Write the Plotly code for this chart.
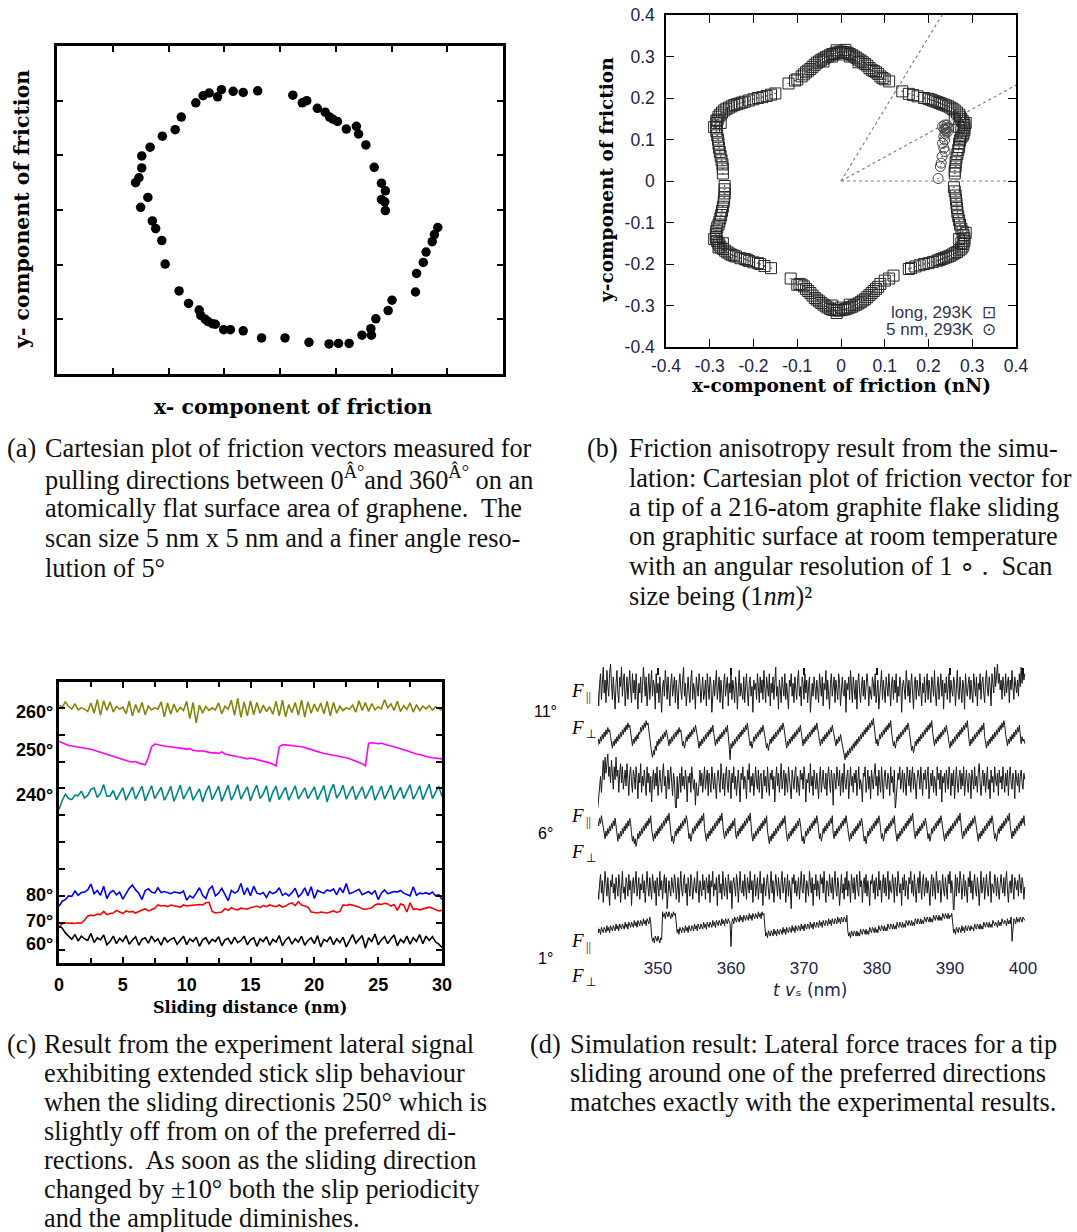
import math
import plotly.graph_objects as go

W, H = 1077, 1232


def px(x):
    return x / W


def py(y):
    return 1 - y / H


# ---------------- (a) experimental friction vectors ----------------
a_x = [3.60, 3.34, 3.16, 2.95, 2.88, 2.73, 2.62, 2.49, 2.23, 2.12, 1.89, 1.67, 1.52, 1.52, 1.47, 1.41, 1.50, 1.63,
       1.71, 1.77, 1.88, 1.94, 2.19, 2.36, 2.55, 2.58, 2.66, 2.71, 2.79, 2.84, 2.99, 3.11, 3.34, 3.67, 4.09, 4.52,
       4.88, 5.05, 5.24, 5.47, 5.63, 5.64, 5.72, 5.94, 6.01, 6.43, 6.45, 6.57, 6.62, 6.73, 6.77, 6.83,
       4.23, 4.40, 4.48, 4.67, 4.81, 4.89, 4.95, 5.03, 5.19, 5.37, 5.41, 5.54, 5.69, 5.82, 5.89, 5.82, 5.88, 5.89]
a_y = [5.18, 5.15, 5.17, 5.20, 5.07, 5.14, 5.09, 4.96, 4.70, 4.47, 4.35, 4.15, 3.99, 3.77, 3.59, 3.50, 3.05, 3.23,
       2.80, 2.66, 2.44, 2.01, 1.52, 1.29, 1.17, 1.07, 1.00, 0.96, 0.92, 0.91, 0.81, 0.81, 0.79, 0.66, 0.66, 0.58,
       0.55, 0.56, 0.56, 0.71, 0.83, 0.71, 1.01, 1.16, 1.35, 1.50, 1.84, 2.04, 2.23, 2.42, 2.55, 2.68,
       5.10, 4.96, 5.00, 4.86, 4.79, 4.70, 4.66, 4.62, 4.48, 4.53, 4.39, 4.19, 3.78, 3.49, 3.35, 3.19, 3.15, 2.99]

# ---------------- (b) simulated friction vectors (nN) ----------------
b_long_pts = [
    (-0.06, 0.280), (-0.055, 0.285), (-0.05, 0.288), (-0.045, 0.292), (-0.04, 0.295), (-0.035, 0.298),
    (-0.03, 0.300), (-0.025, 0.303), (-0.02, 0.306), (-0.015, 0.307), (-0.01, 0.309), (-0.005, 0.310),
    (0.0, 0.312), (0.005, 0.311), (0.01, 0.310), (0.015, 0.309), (0.02, 0.306), (0.025, 0.303), (0.03, 0.300),
    (0.035, 0.297), (0.04, 0.293), (0.045, 0.290), (0.05, 0.286), (0.055, 0.282), (0.06, 0.278), (-0.02, 0.300),
    (0.0, 0.305), (0.02, 0.300), (-0.04, 0.288), (0.04, 0.286), (-0.01, 0.315), (0.01, 0.316),
    (0.065, 0.272), (0.07, 0.268), (0.075, 0.265), (0.08, 0.262), (0.085, 0.258), (0.09, 0.252), (0.095, 0.248),
    (0.10, 0.245), (0.11, 0.240),
    (0.14, 0.216), (0.155, 0.210), (0.165, 0.207), (0.175, 0.204), (0.19, 0.200), (0.20, 0.198), (0.205, 0.196),
    (0.21, 0.194), (0.215, 0.192), (0.22, 0.190), (0.225, 0.188), (0.23, 0.186), (0.235, 0.184), (0.24, 0.182),
    (0.245, 0.180), (0.25, 0.177), (0.255, 0.174), (0.26, 0.170), (0.265, 0.165), (0.27, 0.160), (0.272, 0.155),
    (0.275, 0.150), (0.278, 0.145), (0.28, 0.140), (0.282, 0.135), (0.282, 0.128), (0.282, 0.122), (0.28, 0.115),
    (0.278, 0.110), (0.275, 0.105), (0.272, 0.098), (0.27, 0.090), (0.27, 0.082), (0.268, 0.075), (0.266, 0.065),
    (0.264, 0.055), (0.262, 0.045), (0.262, 0.035), (0.26, 0.025), (0.26, 0.018), (0.26, 0.150), (0.27, 0.130),
    (0.285, 0.140), (0.275, 0.120),
    (0.258, -0.015), (0.26, -0.025), (0.262, -0.035), (0.263, -0.045), (0.264, -0.055), (0.265, -0.065),
    (0.266, -0.075), (0.268, -0.085), (0.27, -0.095), (0.272, -0.105), (0.275, -0.115), (0.278, -0.122),
    (0.28, -0.130), (0.282, -0.138), (0.282, -0.145), (0.28, -0.152), (0.278, -0.158), (0.275, -0.163),
    (0.27, -0.167), (0.265, -0.171), (0.26, -0.174), (0.255, -0.177), (0.25, -0.180), (0.245, -0.182),
    (0.24, -0.184), (0.235, -0.186), (0.23, -0.188), (0.225, -0.190), (0.22, -0.192), (0.21, -0.195),
    (0.20, -0.198), (0.19, -0.200), (0.18, -0.203), (0.17, -0.206), (0.16, -0.210), (0.155, -0.212),
    (0.27, -0.140), (0.285, -0.125), (0.275, -0.150),
    (0.12, -0.228), (0.11, -0.235), (0.10, -0.240), (0.09, -0.248), (0.085, -0.255), (0.08, -0.260),
    (0.075, -0.265), (0.07, -0.270), (0.065, -0.275), (0.06, -0.280), (0.055, -0.285),
    (0.05, -0.288), (0.045, -0.292), (0.04, -0.295), (0.035, -0.298), (0.03, -0.300), (0.025, -0.303),
    (0.02, -0.305), (0.015, -0.307), (0.01, -0.309), (0.005, -0.310), (0.0, -0.311), (-0.005, -0.312),
    (-0.01, -0.312), (-0.015, -0.311), (-0.02, -0.310), (-0.025, -0.308), (-0.03, -0.305), (-0.035, -0.302),
    (-0.04, -0.298), (-0.045, -0.294), (-0.05, -0.290), (-0.055, -0.286), (-0.06, -0.282), (0.0, -0.305),
    (-0.02, -0.300), (0.02, -0.298), (-0.01, -0.318),
    (-0.065, -0.276), (-0.07, -0.270), (-0.075, -0.265), (-0.08, -0.260), (-0.085, -0.254), (-0.09, -0.250),
    (-0.095, -0.248), (-0.10, -0.250), (-0.115, -0.235),
    (-0.16, -0.210), (-0.175, -0.205), (-0.185, -0.200), (-0.19, -0.198), (-0.20, -0.196), (-0.21, -0.193),
    (-0.215, -0.190), (-0.22, -0.188), (-0.23, -0.186), (-0.24, -0.182), (-0.245, -0.180), (-0.25, -0.178),
    (-0.255, -0.175), (-0.26, -0.172), (-0.265, -0.168), (-0.27, -0.164), (-0.275, -0.160), (-0.278, -0.155),
    (-0.28, -0.150), (-0.283, -0.145), (-0.285, -0.140), (-0.286, -0.135), (-0.286, -0.128), (-0.285, -0.120),
    (-0.283, -0.112), (-0.28, -0.105), (-0.278, -0.098), (-0.276, -0.090), (-0.274, -0.082), (-0.272, -0.072),
    (-0.27, -0.062), (-0.268, -0.050), (-0.267, -0.040), (-0.266, -0.030), (-0.266, -0.020), (-0.266, -0.012),
    (-0.28, -0.160), (-0.29, -0.140), (-0.27, -0.150),
    (-0.27, 0.018), (-0.27, 0.030), (-0.271, 0.040), (-0.273, 0.050), (-0.275, 0.060), (-0.277, 0.070),
    (-0.279, 0.080), (-0.28, 0.090), (-0.281, 0.100), (-0.283, 0.110), (-0.285, 0.120), (-0.285, 0.130),
    (-0.284, 0.140), (-0.282, 0.148), (-0.28, 0.155), (-0.276, 0.160), (-0.272, 0.165), (-0.267, 0.170),
    (-0.262, 0.174), (-0.256, 0.177), (-0.25, 0.180), (-0.244, 0.183), (-0.238, 0.185), (-0.232, 0.187),
    (-0.226, 0.189), (-0.22, 0.191), (-0.21, 0.194), (-0.20, 0.197), (-0.19, 0.200), (-0.18, 0.202),
    (-0.17, 0.205), (-0.16, 0.208), (-0.15, 0.211), (-0.285, 0.145), (-0.29, 0.130), (-0.275, 0.140),
    (-0.12, 0.235), (-0.105, 0.242), (-0.10, 0.245), (-0.09, 0.252), (-0.085, 0.257), (-0.08, 0.262),
    (-0.075, 0.266), (-0.07, 0.270), (-0.065, 0.275),
]
b_5nm_pts = [
    (0.222, 0.006), (0.227, 0.035), (0.229, 0.043), (0.231, 0.059), (0.238, 0.071), (0.235, 0.079),
    (0.232, 0.091), (0.237, 0.099), (0.235, 0.107), (0.238, 0.115), (0.240, 0.122), (0.240, 0.127),
    (0.232, 0.131), (0.237, 0.135), (0.242, 0.135), (0.245, 0.128), (0.243, 0.118), (0.236, 0.125),
]
b_guide_angles = [0, 30, 60]
b_tickvals = [-0.4, -0.3, -0.2, -0.1, 0, 0.1, 0.2, 0.3, 0.4]
b_ticktext = ["-0.4", "-0.3", "-0.2", "-0.1", "0", "0.1", "0.2", "0.3", "0.4"]
b_legend = ["long, 293K  \u22a1", "5 nm, 293K  \u2299"]

# ---------------- (c) experimental lateral signal ----------------
c_step = 0.25
c_260 = [10.10, 10.02, 10.22, 10.05, 9.95, 10.15, 9.92, 10.00, 9.95, 9.86,
         10.18, 9.80, 10.30, 9.72, 10.26, 9.90, 10.22, 9.84, 10.05, 9.95,
         10.02, 9.78, 10.25, 9.70, 10.12, 9.82, 10.20, 9.74, 10.06, 9.92,
         10.00, 9.95, 10.22, 9.66, 10.18, 9.76, 10.14, 9.84, 10.02, 9.90,
         10.24, 9.60, 10.20, 9.44, 10.10, 9.80, 10.05, 9.90, 10.00, 9.92,
         10.18, 9.78, 10.06, 9.94, 10.28, 9.72, 10.35, 9.64, 10.22, 9.70,
         10.26, 9.74, 10.20, 9.80, 10.10, 9.86, 10.04, 9.76, 10.24, 9.70,
         10.28, 9.66, 10.12, 9.82, 10.20, 9.72, 10.28, 9.65, 10.22, 9.80,
         10.14, 9.86, 10.18, 9.78, 10.24, 9.70, 10.20, 9.80, 10.06, 9.90,
         10.00, 9.95, 10.10, 9.84, 10.26, 9.90, 10.20, 9.86, 10.16, 9.92,
         10.04, 9.96, 10.30, 10.00, 10.14, 9.90, 10.24, 9.86, 10.08, 9.94,
         10.18, 9.84, 10.12, 9.90, 10.06, 9.96, 10.08, 9.92, 10.04, 9.98, 9.90]
c_250 = [8.75, 8.70, 8.64, 8.60, 8.58, 8.56, 8.55, 8.52, 8.50, 8.48,
         8.46, 8.42, 8.38, 8.36, 8.30, 8.28, 8.24, 8.20, 8.16, 8.10,
         8.08, 8.02, 8.00, 7.98, 8.00, 7.94, 7.92, 7.88, 8.15, 8.55,
         8.65, 8.62, 8.60, 8.58, 8.56, 8.55, 8.54, 8.52, 8.50, 8.48,
         8.46, 8.48, 8.42, 8.40, 8.38, 8.40, 8.36, 8.34, 8.32, 8.33,
         8.30, 8.36, 8.28, 8.25, 8.22, 8.20, 8.18, 8.16, 8.12, 8.10,
         8.13, 8.10, 8.08, 8.05, 8.02, 7.98, 7.95, 7.90, 7.84, 8.55,
         8.62, 8.62, 8.60, 8.60, 8.58, 8.57, 8.55, 8.52, 8.48, 8.44,
         8.40, 8.36, 8.32, 8.30, 8.28, 8.26, 8.24, 8.22, 8.20, 8.18,
         8.14, 8.10, 8.06, 8.02, 7.98, 7.92, 7.84, 8.68, 8.70, 8.68,
         8.66, 8.68, 8.64, 8.60, 8.58, 8.55, 8.52, 8.48, 8.44, 8.40,
         8.36, 8.30, 8.28, 8.26, 8.22, 8.20, 8.16, 8.14, 8.12, 8.11, 8.10]
c_240 = [6.21, 6.55, 6.78, 6.62, 6.58, 6.75, 6.72, 6.90, 6.64, 6.74,
         6.96, 7.02, 6.66, 6.82, 7.14, 6.70, 6.72, 6.92, 6.58, 6.80,
         7.02, 6.56, 6.78, 7.05, 6.60, 6.84, 7.08, 6.54, 6.82, 7.10,
         6.62, 6.86, 7.04, 6.56, 6.78, 7.08, 6.52, 6.80, 7.12, 6.60,
         6.84, 7.06, 6.56, 6.80, 6.98, 6.50, 6.86, 7.10, 6.58, 6.82,
         7.08, 6.52, 6.86, 7.12, 6.56, 6.80, 7.14, 6.60, 6.84, 7.06,
         6.54, 6.88, 7.12, 6.62, 6.80, 7.10, 6.50, 6.86, 7.08, 6.58,
         6.82, 7.04, 6.56, 6.84, 7.10, 6.60, 6.80, 7.02, 6.62, 6.86,
         7.06, 6.58, 6.82, 7.10, 6.50, 6.88, 7.16, 6.64, 6.82, 7.12,
         6.60, 6.86, 7.08, 6.58, 6.80, 7.06, 6.62, 6.84, 7.10, 6.56,
         6.82, 7.08, 6.60, 6.86, 7.12, 6.58, 6.84, 7.04, 6.62, 6.88,
         7.14, 6.60, 6.82, 7.10, 6.58, 6.86, 7.16, 6.62, 6.84, 7.08, 6.70]
c_80 = [2.61, 2.80, 2.86, 3.00, 2.98, 3.18, 3.02, 3.12, 3.14, 3.22,
        3.44, 3.08, 3.20, 3.02, 3.36, 2.90, 3.12, 3.20, 3.04, 3.14,
        2.88, 3.10, 3.28, 3.40, 3.22, 3.10, 2.86, 3.20, 3.26, 3.14,
        3.10, 3.30, 3.12, 3.16, 3.12, 3.08, 3.14, 3.12, 3.10, 3.18,
        2.84, 3.00, 2.92, 3.10, 3.30, 3.02, 2.90, 3.24, 3.36, 3.00,
        3.10, 3.28, 3.02, 2.82, 3.20, 3.10, 3.16, 3.46, 3.04, 3.30,
        3.00, 3.36, 3.10, 3.06, 3.12, 2.94, 3.16, 3.08, 3.14, 3.30,
        3.02, 3.10, 3.00, 3.12, 3.28, 2.96, 3.08, 3.30, 3.00, 3.34,
        2.90, 3.20, 3.14, 3.10, 3.22, 3.18, 3.26, 3.04, 3.30, 3.12,
        3.46, 3.08, 3.12, 3.18, 3.24, 3.04, 3.10, 3.16, 3.06, 3.20,
        2.86, 3.10, 3.22, 3.08, 3.12, 3.16, 3.14, 3.20, 3.10, 3.06,
        3.00, 3.34, 3.02, 3.10, 3.08, 3.12, 3.06, 3.14, 3.00, 3.04, 2.86]
c_70 = [1.81, 1.96, 2.00, 1.98, 1.99, 1.97, 2.00, 1.98, 2.10, 2.24,
        2.28, 2.26, 2.32, 2.30, 2.42, 2.30, 2.34, 2.36, 2.46, 2.40,
        2.34, 2.44, 2.40, 2.42, 2.36, 2.42, 2.46, 2.52, 2.44, 2.48,
        2.54, 2.66, 2.62, 2.64, 2.60, 2.66, 2.64, 2.62, 2.58, 2.66,
        2.62, 2.64, 2.66, 2.66, 2.68, 2.66, 2.74, 2.76, 2.42, 2.36,
        2.38, 2.40, 2.52, 2.46, 2.56, 2.50, 2.48, 2.54, 2.52, 2.50,
        2.56, 2.58, 2.62, 2.56, 2.64, 2.60, 2.66, 2.62, 2.60, 2.66,
        2.58, 2.62, 2.70, 2.74, 2.64, 2.78, 2.66, 2.62, 2.58, 2.40,
        2.38, 2.36, 2.40, 2.38, 2.36, 2.40, 2.44, 2.38, 2.42, 2.66,
        2.64, 2.68, 2.66, 2.62, 2.58, 2.52, 2.50, 2.52, 2.56, 2.66,
        2.70, 2.68, 2.72, 2.70, 2.62, 2.68, 2.46, 2.70, 2.66, 2.40,
        2.74, 2.50, 2.52, 2.48, 2.52, 2.56, 2.58, 2.54, 2.50, 2.44, 2.46]
c_60 = [1.87, 1.80, 1.62, 1.48, 1.38, 1.56, 1.32, 1.50, 1.40, 1.34,
        1.60, 1.26, 1.44, 1.36, 1.54, 1.18, 1.30, 1.50, 1.22, 1.42,
        1.30, 1.52, 1.20, 1.36, 1.48, 1.16, 1.38, 1.44, 1.24, 1.50,
        1.30, 1.40, 1.16, 1.46, 1.28, 1.38, 1.44, 1.20, 1.34, 1.50,
        1.18, 1.40, 1.30, 1.46, 1.12, 1.36, 1.44, 1.22, 1.38, 1.30,
        1.48, 1.14, 1.36, 1.42, 1.20, 1.46, 1.26, 1.34, 1.50, 1.18,
        1.36, 1.44, 1.12, 1.40, 1.30, 1.48, 1.16, 1.38, 1.28, 1.52,
        1.14, 1.36, 1.46, 1.20, 1.40, 1.28, 1.50, 1.16, 1.34, 1.44,
        1.22, 1.52, 1.10, 1.38, 1.30, 1.48, 1.18, 1.40, 1.26, 1.46,
        1.10, 1.36, 1.56, 1.24, 1.40, 1.52, 1.06, 1.44, 1.30, 1.58,
        1.18, 1.36, 1.48, 1.22, 1.40, 1.54, 1.14, 1.38, 1.26, 1.50,
        1.20, 1.44, 1.30, 1.56, 1.22, 1.50, 1.34, 1.48, 1.28, 1.20, 1.08]
c_series = [c_260, c_250, c_240, c_80, c_70, c_60]
c_colors = ["#85850a", "#ff00ff", "#008585", "#0000ff", "#ff0000", "#000000"]
c_labels = ["260°", "250°", "240°", "80°", "70°", "60°"]
c_label_levels = [9.83, 8.44, 6.77, 3.05, 2.05, 1.22]
c_xticks = [0, 5, 10, 15, 20, 25, 30]

# ---------------- (d) simulated lateral force traces ----------------
d_start = 341.75
d_step = 0.125
d_par_11 = [1, -4, 3, 6, -2, 5, 8, 0, 4, -3, 7, 2, -1, 6, 9, 3, -2, 5, 1, -5,
            3, 7, 0, -3, 5, 2, 8, -1, 4, 6, -4, 2, 5, -2, 3, 7, 1, -3, 6, 0,
            4, -2, 6, 1, -5, 3, 0, 5, -3, 2, 8, 4, -1, 5, -4, 1, 6, -2, 3, 7,
            -1, 4, 2, -5, 6, 0, 3, -3, 5, 1, -6, 2, 4, -1, 7, 3, -2, 5, 0, -4,
            3, 6, -1, 2, 5, -3, 4, 0, -5, 3, 6, 1, -2, 4, 8, -1, 3, -4, 2, 5,
            0, -3, 4, 7, -2, 3, 1, -5, 5, 2, -1, 6, 3, -3, 2, 5, -2, 0, 4, -4,
            6, 1, -2, 5, 3, -6, 2, 4, -1, 3, 7, -2, 1, 5, -3, 4, 0, -5, 3, 6,
            -1, 2, 5, -4, 3, 0, 6, -2, 4, 1, -3, 5, 2, -5, 4, 7, -1, 3, 0, -2,
            5, -3, 2, 6, 0, -4, 3, 5, -1, 2, -6, 4, 1, 3, -2, 6, 2, -3, 5, 0,
            4, -2, 7, 1, -3, 5, 2, -1, 6, -4, 3, 0, 5, -2, 3, 8, -1, 2, -5, 4,
            1, -3, 5, 2, -1, 6, -2, 3, 0, -5, 4, 2, 6, -1, 3, -3, 5, 1, -2, 4,
            7, -1, 2, -4, 5, 3, -2, 6, 0, 4, -3, 2, 5, -6, 1, 3, -1, 5, 2, -2,
            4, 0, -3, 6, 2, -1, 5, -4, 3, 1, 7, -2, 4, 0, -5, 3, 6, -1, 2, 5,
            -3, 4, 1, -2, 6, 3, -4, 2, 5, 0, -1, 4, -6, 3, 1, 5, -2, 7, 2, -3,
            5, 1, -2, 4, -5, 3, 6, 0, -3, 2, 5, -1, 4, -2, 1, 6, 3, -4, 2, 0,
            -2, 5, 3, -1, 6, -3, 2, 4, -5, 1, 3, 7, -2, 4, 0, -3, 5, 2, -1, 6,
            1, -4, 3, 5, -2, 4, 0, 6, -3, 2, -1, 5, 3, -6, 2, 4, 1, -2, 7, 3,
            -1, 4, -3, 2, 6, 0, -5, 3, 5, -2, 4, 1, -1, 6, 2, -4, 3, 0, 5, -3,
            2, 6, -2, 4, 1, -3, 5, 3, -1, 7, 0, -4, 2, 5, -2, 3, 6, -1, 4, -5,
            3, 0, 5, -2, 2, 6, -3, 4, 1, -1, 5, 3, -4, 2, 7, 0, -2, 5, 1, -3,
            4, 2, -5, 6, 1, -1, 3, 5, -2, 4, 0, -3, 6, 2, -1, 5, -4, 3, 1, 6,
            -2, 3, 5, 0, -3, 4, 7, 1, -1, 5, 2, -4, 6, 3, 0, 8, 2, 5, 9, 3,
            6, 1, 4, -2, 5, 2, -1, 6, 0, 3, 5, -3, 4, 1, 7, 2, -2, 5, 3, 0,
            4, -1, 6, 2, 8, 3, 7, 4, 6]
d_perp_11 = [-3, 0, -2, 1, -1, 2, 0, 3, 1, 4, 2, 5, 3, 4, 1, -2, -4, -1, -3, 0,
             -2, 1, -1, 2, 0, 3, 1, 4, 2, 5, 3, 6, 4, 7, 5, 6, 2, -1, -3, 0,
             -2, 1, -1, 2, 0, 3, 2, 5, 3, 6, 4, 7, 5, 8, 6, 7, 3, 0, -3, -6,
             -8, -5, -7, -3, -5, -1, -3, 0, -2, 1, -1, 2, 0, 3, 1, 4, 2, -1, -3, 0,
             -2, 1, -1, 2, 0, 3, 1, 4, 2, 5, 3, 4, 0, -3, -1, -4, -2, 1, -1, 2,
             0, 3, 1, 4, 2, 5, 3, 6, 4, 1, -2, -4, -1, -3, 0, -2, 1, -1, 2, 0,
             3, 1, 4, 2, 5, 3, 6, 2, -1, -3, 0, -2, 1, -1, 2, 0, 3, 1, 4, 2,
             5, 3, 6, -1, -3, -9, -2, -4, -1, -3, 0, -2, 1, -1, 2, 0, 3, 1, 4, 2,
             5, 3, 6, 4, 7, 3, 0, -3, -1, -4, -2, 1, -1, 2, 0, 3, 1, 4, 2, 5,
             3, 6, 4, 2, -1, -4, -2, -5, -3, 0, -2, 1, -1, 2, 0, 3, 1, 4, 2, 5,
             3, 6, 4, 7, 5, 1, -2, -4, -1, -3, 0, -2, 1, -1, 2, 0, 3, 1, 4, 2,
             5, 3, 6, 2, -1, -3, 0, -2, 1, -1, 2, 0, 3, 1, 4, 2, 5, 3, 6, 4,
             7, 5, 2, -1, -3, 0, -2, 1, -1, 2, 0, 3, 1, 4, 2, 5, 3, 6, 4, 1,
             -1, -3, 0, -2, 1, -1, 2, 0, -3, -5, -7, -9, -6, -8, -5, -7, -4, -6, -3, -5,
             -2, -4, -1, -3, 0, -2, 1, -1, 2, 0, 3, 1, 4, 2, 5, 3, 6, 4, 7, 5,
             8, 6, 9, 4, 1, -2, 0, -3, -1, 2, 0, 3, 1, 4, 2, 5, 3, 6, 4, 7,
             5, 8, 3, 0, -3, -1, -4, -2, 1, -1, 2, 0, 3, 1, 4, 2, 5, 3, 6, 4,
             7, 5, 1, -2, -5, -3, -6, -4, -1, -3, 0, -2, 1, -1, 2, 0, 3, 1, 4, 2,
             5, 3, 6, 4, 7, 5, 8, 3, -1, -3, 0, -2, 1, -1, 2, 0, 3, 1, 4, 2,
             5, 3, 6, 4, 1, -2, -4, -1, -3, 0, -2, 1, -1, 2, 0, 3, 1, 4, 2, 5,
             3, 6, 4, 7, 5, 8, 2, -1, -3, 0, -2, 1, -1, 2, 0, 3, 1, 4, 2, 5,
             3, 6, 4, 7, 1, -2, -4, -1, -3, 0, -2, 1, -1, 2, 0, 3, 1, 4, 2, 5,
             3, 6, 4, 7, 5, 8, 6, 2, -1, -3, 0, -2, 1, -1, 2, 0, 3, 1, 4, 2,
             5, 3, 6, 0, -2, 1, -1, 0, -2]
d_par_6 = [-7, -3, 0, 3, -2, 5, 8, 2, 9, 4, 7, 10, 3, 6, 1, 8, 4, -1, 6, 2,
           9, 3, 5, -2, 4, 7, 1, 6, -1, 3, 5, 0, 7, 2, -3, 4, 6, 1, -2, 5,
           3, -1, 6, 2, -4, 4, 1, 7, -2, 3, 0, 5, 2, -3, 6, 1, 4, -2, 3, -5,
           2, 5, -1, 4, 0, 6, -3, 2, 5, 1, -2, 4, 7, 0, 3, -4, 2, 5, -1, 3,
           6, 1, -3, 4, 2, -6, -8, 3, -4, 1, 4, -2, 6, 0, 3, -1, 5, 2, -5, 3,
           1, 4, -2, 6, 3, -1, 2, -6, 1, -3, -3, 2, 5, 0, 4, -2, 3, 6, -1, 2,
           5, -3, 4, 1, -2, 6, 2, -1, 4, 0, -4, 3, 5, 1, -2, 7, 2, -1, 4, -3,
           3, 6, 0, -2, 5, 2, -4, 4, 1, 6, -1, 3, -3, 2, 5, 0, -5, 4, 2, 6,
           -1, 3, 1, -4, 5, 2, 7, -2, 3, 0, 4, -3, 2, 6, 1, -1, 5, -2, 3, 4,
           -4, 2, 5, 0, 3, -2, 6, 1, -3, 4, 2, 5, -1, 3, -5, 2, 6, 0, 4, -2,
           3, 7, -1, 2, 5, -3, 4, 1, -2, 6, 3, 0, -4, 5, 2, -1, 4, 6, -2, 3,
           0, -3, 5, 2, 4, -1, 6, 3, -5, 2, 1, 4, -2, 7, 0, 3, -3, 5, 2, -1,
           4, 1, -4, 3, 6, -2, 2, 5, 0, -1, 4, -3, 3, 6, 1, -2, 5, 2, -6, 4,
           2, -1, 6, 3, 0, 5, -3, 2, 4, -2, 7, 1, -1, 3, 5, -4, 2, 6, 0, 3,
           -2, 4, 1, 5, -3, 3, 6, -1, 2, 0, -5, 4, 3, 6, -2, 1, 5, -1, 3, -4,
           5, 2, -1, 4, 7, 0, 3, -3, 5, 1, -2, 6, 2, -4, 3, 5, 0, -1, 4, 2,
           -3, 6, 1, 3, -2, 5, -8, -4, 0, 4, 2, 6, -1, 3, 5, -2, 4, 1, -3, 6,
           2, 0, 5, -2, 3, 6, -1, 4, 1, -4, 2, 5, 3, -1, 6, 0, -3, 4, 2, 5,
           -1, 3, 6, -4, 2, 4, 0, 5, -2, 3, 1, -3, 6, 2, 4, -1, 5, -5, 3, 1,
           4, -2, 5, 2, -1, 6, 3, -3, 4, 0, 5, -4, 2, 6, 1, -2, 3, 5, -1, 4,
           0, 6, -3, 2, 5, 1, -2, 4, 3, -4, 5, 2, -1, 6, 0, 3, -2, 4, 7, 1,
           -3, 2, 5, 0, 4, -2, 3, 6, -1, 2, -4, 5, 1, 3, -2, 6, 2, 0, 4, -3,
           5, 1, 3, -1, 6, 2, -2, 4, 0, 5, -3, 3, 6, 1, -1, 4, 2, -4, 5, 2,
           0, 4, -2, 3, 5, 1, -1, 4, 2]
d_perp_6 = [4, 2, 5, 3, 6, 4, 2, -1, -3, 0, -2, 1, -1, 2, 0, 3, 1, 4,
            2, 5, 1, -2, -4, -1, -3, 0, -2, 1, -1, 2, 0, 3, 1, 4, 2, 5,
            3, -1, -4, -2, -5, -3, -6, -4, -1, -3, 0, -2, 1, -1, 2, 0, 3, 1,
            4, 2, 5, 3, 6, 1, -2, -4, -1, -3, 0, -2, 1, -1, 2, 0, 3, 1,
            4, 2, 5, 3, 6, 4, 7, 2, -1, -4, -2, -5, -3, 0, -2, 1, -1, 2,
            0, 3, 1, 4, 2, 5, 3, 6, 4, 0, -3, -1, -4, -2, 1, -1, 2, 0,
            3, 1, 4, 2, 5, 3, 6, 4, 7, 1, -2, -4, -1, -3, 0, -2, 1, -1,
            2, 0, 3, 1, 4, 2, 5, 3, 6, 4, 7, 2, -1, -3, 0, -2, 1, -1,
            2, 0, 3, 1, 4, 2, 5, -1, -3, 0, -2, 1, -1, 2, 0, 3, 1, 4,
            2, 5, 3, 6, 4, 7, 1, -2, -4, -1, -3, 0, -2, 1, -1, 2, 0, 3,
            1, 4, 2, 5, 3, 6, 0, -3, -5, -2, -4, -1, -3, 0, -2, 1, -1, 2,
            0, 3, 1, 4, 2, 5, 3, 6, 1, -2, -4, -1, -3, 0, -2, 1, -1, 2,
            0, 3, 1, 4, 2, 5, 3, -1, -4, -2, -5, -3, 0, -2, 1, -1, 2, 0,
            3, 1, 4, 2, 5, 3, 6, 4, 0, -3, -1, -4, -2, 1, -1, 2, 0, 3,
            1, 4, 2, 5, 3, 6, -1, -3, 0, -2, 1, -1, 2, 0, 3, 1, 4, 2,
            5, 3, 6, 4, 1, -2, -4, -1, -3, 0, -2, 1, -1, 2, 0, 3, 1, 4,
            2, 5, 3, -1, -4, -2, -5, -3, 0, -2, 1, -1, 2, 0, 3, 1, 4, 2,
            5, 3, 6, 4, 0, -3, -1, -4, -2, 1, -1, 2, 0, 3, 1, 4, 2, 5,
            3, 6, 1, -2, -4, -1, -3, 0, -2, 1, -1, 2, 0, 3, 1, 4, 2, 5,
            3, 6, 4, 7, 2, -1, -3, 0, -2, 1, -1, 2, 0, 3, 1, 4, 2, 5,
            3, 0, -3, -1, -4, -2, 1, -1, 2, 0, 3, 1, 4, 2, 5, 3, 6, 4,
            1, -2, -4, -1, -3, 0, -2, 1, -1, 2, 0, 3, 1, 4, 2, 5, 3, 6,
            4, 7, 2, -1, -3, 0, -2, 1, -1, 2, 0, 3, 1, 4, 2, 5, 3, 6,
            4, 1, -2, -4, -1, -3, 0, -2, 1, -1, 2, 0, 3, 1, 4, 2, 5, 3,
            6, 4, 0, -3, -1, -4, -2, 1, -1, 2, 0, 3, 1, 4, 2, 5, 3, 6,
            4, 7, 2, -1, -3, 0, -2, 1, -1, 2, 0, 3, 1, 4, 2, 5, 3, 6, 2]
d_par_1 = [0, -3, 2, 5, -1, 3, -4, 1, 6, 2, -2, 4, 0, -5, 3, 1, 5, -1, 2, -3,
           4, 0, -2, 5, 2, -4, 3, 6, -1, 1, -3, 4, 2, -2, 5, 0, 3, -5, 2, 4,
           -1, 3, 6, -2, 1, 4, -3, 2, 0, 5, -1, 3, -4, 2, 6, 1, -2, 4, 0, -3,
           5, 2, -1, 3, -5, 4, 1, -2, 6, 0, 3, -3, 2, 5, -1, 4, -6, 1, 3, 0,
           -2, 4, 2, -1, 5, 3, -3, 1, 4, -4, 2, 6, 0, -2, 3, 5, -1, 2, -5, 4,
           1, -2, 5, 3, -3, 2, 4, 0, -1, 6, 2, -4, 3, 1, -2, 5, 0, 3, -3, 4,
           2, -1, 5, -4, 3, 1, 6, -2, 2, 0, 4, -5, 3, 5, -1, 2, -3, 6, 1, -2,
           4, 0, -3, 5, 2, -1, 3, -6, 2, 4, 1, -2, 5, 3, -4, 1, 6, 0, -1, 3,
           -2, 5, 1, -3, 4, 2, -1, 6, 0, 3, -4, 2, 5, -2, 1, 4, -3, 3, 6, -1,
           2, -5, 4, 1, -2, 3, 5, 0, -3, 2, 6, -1, 3, -4, 1, 5, 2, -2, 4, 0,
           -3, 3, 6, -1, 2, 4, -4, 1, 5, -2, 3, 0, -6, 4, 2, 5, -1, 3, -2, 1,
           4, -3, 2, 6, 0, -1, 5, 2, -4, 3, 1, -2, 6, 3, -1, 4, -5, 2, 0, 5,
           -2, 3, 1, -3, 5, 2, 4, -1, 6, 0, -4, 3, 2, -2, 5, 1, -1, 4, -3, 2,
           6, 0, -2, 4, 1, -5, 3, 5, -1, 2, -3, 4, 0, 6, -2, 3, 1, -4, 5, 2,
           -1, 4, -3, 2, 5, 0, -2, 6, 1, 3, -4, 2, 4, -1, 5, -2, 3, 0, -5, 3,
           2, 5, -1, 3, -3, 4, 1, -2, 6, 0, 3, -4, 2, 5, -1, 4, -2, 1, 6, -3,
           3, 0, -1, 5, 2, -4, 4, 1, -2, 6, 3, -1, 2, -5, 4, 0, 5, -2, 3, 1,
           -3, 4, 2, 6, -1, 3, -2, 5, 0, -4, 2, 4, -1, 6, 1, -3, 3, 5, -2, 2,
           4, -1, 3, 0, -5, 2, 5, -2, 4, 1, -3, 6, 2, -1, 3, 3, -4, 2, 5, 0,
           -2, 4, 1, -3, 5, 2, 6, -1, 3, 0, -9, 2, 5, -2, 4, 1, -1, 6, 3, -3,
           2, 5, -2, 3, 0, -4, 4, 1, 6, -1, 3, -3, 2, 5, 0, -2, 4, 1, -5, 3,
           6, -1, 2, 4, -3, 1, 5, 0, -2, 3, 6, -4, 2, 1, -1, 5, 3, -2, 4, 0,
           -3, 2, 5, 1, -1, 4, -2, 3, 6, 0, -4, 2, 3, -1, 5, 1, -3, 4, 2, 0,
           3, -2, 5, 1, -1, 4, 2, -3, 1]
d_perp_1 = [1, -2, 0, -3, 1, -1, -2, 1, 0, -2, 2, -1, 1, -2, 2, 0, -1, 2, 0, -1,
            3, 0, 2, -1, 3, 1, 0, 3, 1, 0, 4, 1, 3, 0, 4, 2, 1, 4, 2, 1,
            5, 2, 4, 1, 5, 3, 2, 5, 3, 2, 6, 3, 5, 2, 6, 4, 3, 7, 4,
            -4, -7, -5, -8, -4, -6, -7, -4, -6, -8, -5, -6,
            10, 7, 9, 6, 10, 8, 7, 10, 8, 6, 9, 7, 10, 8, 9,
            1, -2, 0, -3, 1, -1, -2, 1, 0, -2, 2, -1, 1, -2, 2, 0, -1, 2, 1, -1,
            3, 0, 2, -1, 3, 1, 0, 3, 1, 0, 4, 1, 3, 0, 4, 2, 1, 4, 2, 1,
            5, 2, 4, 1, 5, 3, 2, 5, 3, 2, 6, 3, 5, 2, 6, 4, 3, 6, 4, 3,
            -10, 4, 6, 3, 7, 5, 4, 7, 5, 4, 8, 5, 7, 4, 8, 6, 5, 8, 6, 5,
            9, 6, 8, 5, 9, 7, 6, 9, 7, 6, 10, 7, 9, 6, 10, 8, 9,
            -1, -4, -2, -5, -1, -3, -4, -1, -2, -4, 0, -3, -1, -4, 0, -2, -3, 0, -1, -3,
            1, -2, 0, -3, 1, -1, -2, 1, 0, -2, 2, -1, 1, -2, 2, 0, -1, 2, 1, -1,
            3, 0, 2, -1, 3, 1, 0, 3, 2, 0, 4, 1, 3, 0, 4, 2, 1, 4, 3, 1,
            5, 2, 4, 1, 5, 3, 2, 5, 4, 2, 6, 3, 5, 2, 6, 4, 3, 6, 5, 3,
            7, 4, 6, 3, 7, 5, 4, 7, 6, 4, 8,
            -1, -4, -2, -5, -1, -3, -4, -1, -2, -4, -1, -4, -2, -4, 0, -2, -3, 0, -1, -3,
            0, -3, -1, -3, 1, -1, -2, 1, 0, -2, 1, -2, 0, -2, 2, 0, -1, 2, 1, -1,
            2, -1, 1, -1, 3, 1, 0, 3, 2, 0, 3, 0, 2, 0, 4, 2, 1, 4, 2, 1,
            4, 1, 3, 1, 5, 3, 2, 5, 3, 2, 5, 2, 4, 2, 6, 4, 3, 6, 4, 3,
            6, 3, 5, 3, 7, 5, 4, 7, 5, 4, 7, 4, 6, 4, 8, 6, 5, 8, 6, 5,
            8, 5, 7, 5, 9, 7, 6, 9, 7, 6, 9, 6, 8, 7, 9,
            1, -2, 0, -3, 1, -1, -2, 1, 0, -2, 2, -1, 1, -2, 2, 0, -1, 2, 1, -1,
            2, 0, 1, -1, 3, 1, 0, 3, 1, 0, 3, 0, 2, 0, 4, 2, 1, 4, 2, 1,
            4, 1, 3, 1, 5, 3, 2, 4, 3, 1, 5, 2, 4, 2, 6, 4, 3, 5, 4, 2,
            6, 3, 5, 3, 7, -7, 4, 6, 5, 3, 7, 4, 6, 4, 7, 5, 4, 7, 6, 5]
d_xticks = [350, 360, 370, 380, 390, 400]

# ---------------- figure ----------------
fig = go.Figure()

# (a)
fig.add_trace(go.Scatter(x=a_x, y=a_y, mode="markers", xaxis="x", yaxis="y",
                         marker=dict(size=9.5, color="black"), hoverinfo="skip"))

# (b)
for ang in b_guide_angles:
    r = 0.7
    fig.add_trace(go.Scatter(x=[0, r * math.cos(math.radians(ang))], y=[0, r * math.sin(math.radians(ang))],
                             mode="lines", xaxis="x2", yaxis="y2",
                             line=dict(color="#808080", width=1.2, dash="dot"), hoverinfo="skip"))
fig.add_trace(go.Scatter(x=[p[0] for p in b_long_pts], y=[p[1] for p in b_long_pts], mode="markers",
                         xaxis="x2", yaxis="y2",
                         marker=dict(symbol="square-open-dot", size=11, color="#262626", line=dict(width=1)),
                         hoverinfo="skip"))
fig.add_trace(go.Scatter(x=[p[0] for p in b_5nm_pts], y=[p[1] for p in b_5nm_pts], mode="markers",
                         xaxis="x2", yaxis="y2",
                         marker=dict(symbol="circle-open-dot", size=10, color="#444444", line=dict(width=1)),
                         hoverinfo="skip"))

# (c)
for vals, col in zip(c_series, c_colors):
    fig.add_trace(go.Scatter(x=[c_step * i for i in range(len(vals))], y=vals, mode="lines",
                             xaxis="x3", yaxis="y3", line=dict(color=col, width=1.6), hoverinfo="skip"))

# (d)
d_series = [d_par_11, d_perp_11, d_par_6, d_perp_6, d_par_1, d_perp_1]
d_yaxes = ["y4", "y5", "y6", "y7", "y8", "y9"]
for vals, ya in zip(d_series, d_yaxes):
    fig.add_trace(go.Scatter(x=[d_start + d_step * i for i in range(len(vals))], y=vals, mode="lines",
                             xaxis="x4", yaxis=ya, line=dict(color="#1a1a1a", width=1), hoverinfo="skip"))
fig.add_trace(go.Scatter(x=[None], y=[None], xaxis="x5", yaxis="y4", mode="lines", hoverinfo="skip"))

navy = "#22224a"
common = dict(showgrid=False, zeroline=False, automargin=False)

layout = dict(
    width=W, height=H, margin=dict(l=0, r=0, t=0, b=0, pad=0, autoexpand=False),
    paper_bgcolor="white", plot_bgcolor="white", showlegend=False,
    xaxis=dict(domain=[px(57), px(503)], range=[0, 8], anchor="y", showline=True, linewidth=3,
               linecolor="black", mirror="ticks", ticks="inside", ticklen=6, tickwidth=2, tickcolor="black",
               tickvals=[1, 2, 3, 4, 5, 6, 7], showticklabels=False, **common),
    yaxis=dict(domain=[py(374), py(46)], range=[0, 6], anchor="x", showline=True, linewidth=3,
               linecolor="black", mirror="ticks", ticks="inside", ticklen=6, tickwidth=2, tickcolor="black",
               tickvals=[1, 2, 3, 4, 5], showticklabels=False, **common),
    xaxis2=dict(domain=[px(666), px(1016)], range=[-0.4, 0.4], anchor="y2", showline=True, linewidth=1.5,
                linecolor="black", mirror="ticks", ticks="inside", ticklen=8, tickwidth=1.2, tickcolor="black",
                tickvals=b_tickvals, ticktext=b_ticktext, ticklabelstandoff=2,
                tickfont=dict(family="Liberation Sans", size=17.5, color=navy), **common),
    yaxis2=dict(domain=[py(347), py(15)], range=[-0.4, 0.4], anchor="x2", showline=True, linewidth=1.5,
                linecolor="black", mirror="ticks", ticks="inside", ticklen=8, tickwidth=1.2, tickcolor="black",
                tickvals=b_tickvals, ticktext=b_ticktext, ticklabelstandoff=6,
                tickfont=dict(family="Liberation Sans", size=17.5, color=navy), **common),
    xaxis3=dict(domain=[px(59), px(442)], range=[0, 30], anchor="y3", showline=True, linewidth=2.5,
                linecolor="black", mirror="ticks", ticks="inside", ticklen=6, tickwidth=2, tickcolor="black",
                tickvals=c_xticks, ticklabelstandoff=4,
                minor=dict(tickvals=[2.5, 7.5, 12.5, 17.5, 22.5, 27.5], ticks="inside", ticklen=5, tickwidth=2,
                           tickcolor="black"),
                tickfont=dict(family="Liberation Sans", size=18, color="black", weight="bold"), **common),
    yaxis3=dict(domain=[py(963), py(682)], range=[0.5, 10.96], anchor="x3", showline=True, linewidth=2.5,
                linecolor="black", mirror="ticks", ticks="inside", ticklen=6, tickwidth=2, tickcolor="black",
                tickvals=[1, 2, 3, 4, 5, 6, 7, 8, 9, 10], showticklabels=False, **common),
    xaxis4=dict(domain=[px(598), px(1027)], range=[341.78, 400.55], anchor="free", position=py(940),
                showline=False, ticks="outside", ticklen=8, tickwidth=2, tickcolor="#111111",
                tickvals=d_xticks, ticklabelstandoff=5,
                tickfont=dict(family="Liberation Sans", size=17, color=navy), **common),
    xaxis5=dict(domain=[px(598), px(1027)], range=[341.78, 400.55], anchor="free", position=py(675),
                overlaying="x4", side="top", showline=False, ticks="outside", ticklen=7, tickwidth=2,
                tickcolor="#111111", tickvals=d_xticks, showticklabels=False, **common),
)
d_bands = [(664, 722, -9, 9), (716, 762, -10, 10), (754, 818, -10, 10), (808, 854, -9, 9),
           (862, 918, -9, 9), (910, 950, -12, 11)]
for i, (top, bot, lo, hi) in enumerate(d_bands):
    layout["yaxis%d" % (i + 4)] = dict(domain=[py(bot), py(top)], range=[lo, hi], anchor="x4", visible=False,
                                       **common)
fig.update_layout(**layout)

ann = []


def add_text(x, y, text, size, family="Liberation Serif", color="black", xanchor="center", angle=0,
             bold=False, yref="paper", yv=None):
    ann.append(dict(x=px(x), y=py(y) if yv is None else yv, xref="paper", yref=yref, text=text, showarrow=False,
                    xanchor=xanchor, yanchor="middle", textangle=angle,
                    font=dict(family=family, size=size, color=color, weight="bold" if bold else "normal")))


# axis titles
add_text(293, 407, "x- component of friction", 20.5, family="DejaVu Serif", bold=True)
add_text(22, 210, "y- component of friction", 20.5, family="DejaVu Serif", angle=-90, bold=True)
add_text(841, 385, "x-component of friction (nN)", 18.5, family="DejaVu Serif", bold=True)
add_text(607, 180, "y-component of friction", 18.5, family="DejaVu Serif", angle=-90, bold=True)
add_text(250, 1007, "Sliding distance (nm)", 16, family="DejaVu Serif", bold=True)
add_text(810, 990, "<i>t v</i>\u209b (nm)", 17, family="DejaVu Sans", color=navy)

# (b) legend
add_text(998, 313, b_legend[0], 17, family="Liberation Sans", color="#333355", xanchor="right")
add_text(998, 330, b_legend[1], 17, family="Liberation Sans", color="#333355", xanchor="right")

# (c) level labels
for lab, lev in zip(c_labels, c_label_levels):
    add_text(55, 0, lab, 18, family="Liberation Sans", xanchor="right", bold=True, yref="y3", yv=lev)

# (d) labels: italic F with a separate small subscript symbol
for y, sub in [(690, "||"), (727, "\u22a5"), (815, "||"), (851, "\u22a5"), (940, "||"), (975, "\u22a5")]:
    add_text(577, y, "<i>F</i>", 19, family="Liberation Serif")
    add_text(584, y + 7, sub, 12, family="Liberation Serif", xanchor="left")
for y, t in [(711, "11\u00b0"), (833, "6\u00b0"), (958, "1\u00b0")]:
    add_text(545, y, t, 16, family="Liberation Sans")

# captions
cap_size = 26.3
captions = [
    (5, 43, [448, 478, 508, 538, 568], "(a)", [
        "Cartesian plot of friction vectors measured for",
        "pulling directions between 0<sup>Â°</sup>and 360<sup>Â°</sup> on an",
        "atomically flat surface area of graphene.  The",
        "scan size 5 nm x 5 nm and a finer angle reso-",
        "lution of 5°"]),
    (585, 627, [448, 478, 507, 536, 566, 596], "(b)", [
        "Friction anisotropy result from the simu-",
        "lation: Cartesian plot of friction vector for",
        "a tip of a 216-atom graphite flake sliding",
        "on graphitic surface at room temperature",
        "with an angular resolution of 1 \u2218 .  Scan",
        "size being (1<i>nm</i>)\u00b2"]),
    (5, 42, [1044, 1073, 1102, 1131, 1160, 1189, 1218], "(c)", [
        "Result from the experiment lateral signal",
        "exhibiting extended stick slip behaviour",
        "when the sliding directionis 250° which is",
        "slightly off from on of the preferred di-",
        "rections.  As soon as the sliding direction",
        "changed by ±10° both the slip periodicity",
        "and the amplitude diminishes."]),
    (528, 568, [1044, 1073, 1102], "(d)", [
        "Simulation result: Lateral force traces for a tip",
        "sliding around one of the preferred directions",
        "matches exactly with the experimental results."]),
]
for lx, tx, ys, lab, lines in captions:
    add_text(lx, ys[0], lab, cap_size, xanchor="left", color="#111111")
    for y, line in zip(ys, lines):
        add_text(tx, y, line, cap_size, xanchor="left", color="#111111")

fig.update_layout(annotations=ann)
fig.write_html("out.html")
